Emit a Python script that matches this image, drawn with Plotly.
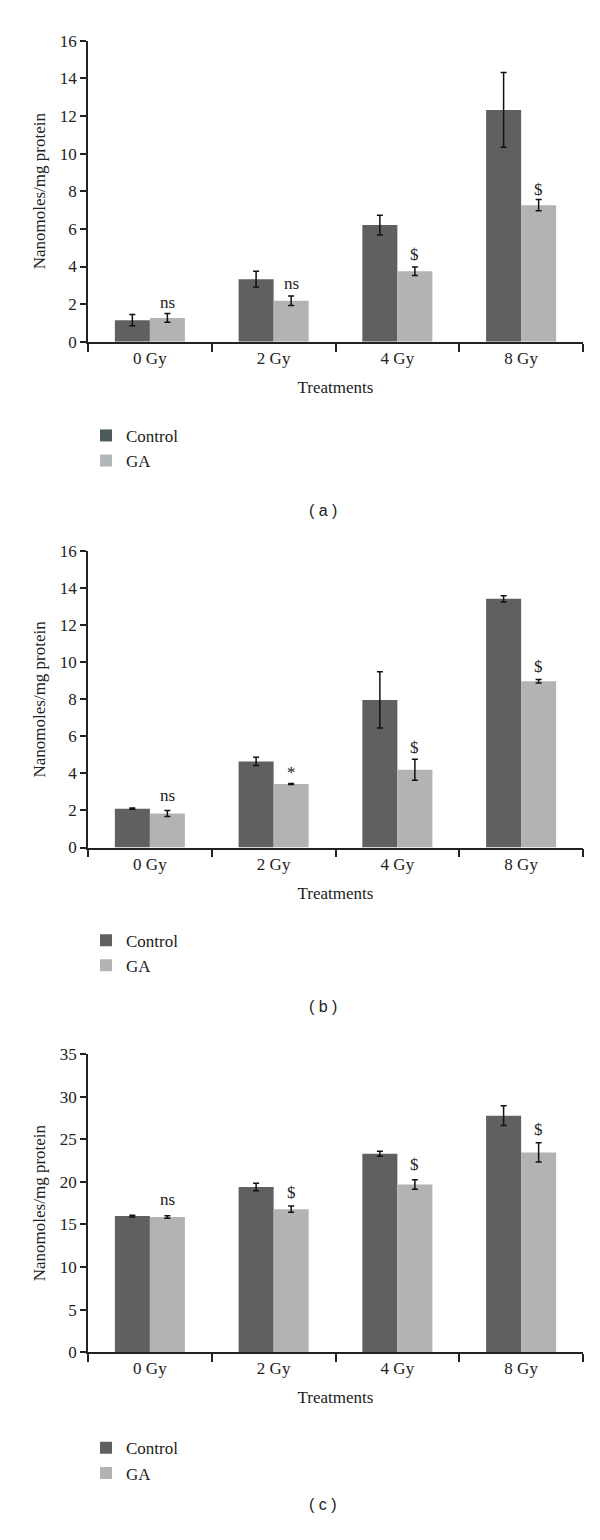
import plotly.graph_objects as go

categories = ["0 Gy", "2 Gy", "4 Gy", "8 Gy"]

# Panel (a)
a_control = [1.15, 3.33, 6.2, 12.32]
a_control_err = [0.3, 0.42, 0.52, 1.99]
a_ga = [1.27, 2.18, 3.75, 7.26]
a_ga_err = [0.23, 0.25, 0.23, 0.3]
a_marks = ["ns", "ns", "$", "$"]
a_mark_y = [2.08, 3.1, 4.66, 8.1]

# Panel (b)
b_control = [2.1, 4.65, 7.97, 13.43]
b_control_err = [0.03, 0.22, 1.52, 0.17]
b_ga = [1.84, 3.43, 4.2, 8.98]
b_ga_err = [0.16, 0.03, 0.57, 0.09]
b_marks = ["ns", "*", "$", "$"]
b_mark_y = [2.8, 4.06, 5.4, 9.8]

# Panel (c)
c_control = [15.98, 19.4, 23.3, 27.76]
c_control_err = [0.1, 0.44, 0.29, 1.17]
c_ga = [15.86, 16.79, 19.68, 23.45]
c_ga_err = [0.15, 0.37, 0.56, 1.12]
c_marks = ["ns", "$", "$", "$"]
c_mark_y = [17.9, 18.7, 22.0, 26.1]

y_ranges = [[0, 16], [0, 16], [0, 35]]
y_dticks = [2, 2, 5]
panel_labels = ["( a )", "( b )", "( c )"]

W, H = 600, 1540
CTRL = "#606060"
GA = "#b3b3b3"
SERIF = "Liberation Serif"
TXT = "#222222"

panels = [
    (a_control, a_control_err, a_ga, a_ga_err, a_marks, a_mark_y),
    (b_control, b_control_err, b_ga, b_ga_err, b_marks, b_mark_y),
    (c_control, c_control_err, c_ga, c_ga_err, c_marks, c_mark_y),
]
legend_cols = [("#4d5a5c", "#b0b8bc"), (CTRL, GA), (CTRL, GA)]

# pixel geometry (top, bottom of plot area) per panel
pix = [(32, 337), (549, 849), (1058, 1360)]
legend_top = [414, 925, 1439]
label_y = [497, 1010, 1525]

fig = go.Figure()
annotations = []
layout = {}
for i, (ctrl, ctrl_e, ga, ga_e, marks, mark_y) in enumerate(panels):
    n = "" if i == 0 else str(i + 1)
    xa, ya = "x" + n, "y" + n
    leg = "legend" if i == 0 else "legend" + str(i + 1)
    fig.add_trace(go.Bar(
        x=categories, y=ctrl, name="Control", marker_color=CTRL, marker_line_width=0,
        error_y=dict(type="data", array=ctrl_e, color="#111111", thickness=1.5, width=3),
        xaxis=xa, yaxis=ya, showlegend=False, offsetgroup="c"))
    fig.add_trace(go.Bar(
        x=categories, y=ga, name="GA", marker_color=GA, marker_line_width=0,
        error_y=dict(type="data", array=ga_e, color="#111111", thickness=1.5, width=3),
        xaxis=xa, yaxis=ya, showlegend=False, offsetgroup="g"))
    for name, col in zip(["Control", "GA"], legend_cols[i]):
        fig.add_trace(go.Scatter(
            x=[None], y=[None], mode="markers", name=name,
            marker=dict(symbol="square", size=13, color=col),
            xaxis=xa, yaxis=ya, legend=leg, showlegend=True))
    top, bot = pix[i]
    layout["xaxis" + n] = dict(
        domain=[88 / W, 583 / W], anchor=ya, type="category",
        showline=True, linecolor=TXT, linewidth=1.5,
        ticks="outside", ticklen=8, tickcolor=TXT, tickwidth=1.5,
        tickson="boundaries", showgrid=False, zeroline=False,
        tickfont=dict(family=SERIF, size=17, color=TXT),
        title=dict(text="Treatments", font=dict(family=SERIF, size=17, color=TXT), standoff=14),
    )
    layout["yaxis" + n] = dict(
        domain=[1 - bot / H, 1 - top / H], anchor=xa, range=y_ranges[i], dtick=y_dticks[i],
        showline=True, linecolor=TXT, linewidth=1.5,
        ticks="outside", ticklen=6, tickcolor=TXT, tickwidth=1.5,
        showgrid=False, zeroline=False,
        tickfont=dict(family=SERIF, size=17, color=TXT),
        title=dict(text="Nanomoles/mg protein", font=dict(family=SERIF, size=17, color=TXT), standoff=10),
    )
    layout[leg] = dict(
        x=86 / W, xanchor="left", y=1 - legend_top[i] / H, yanchor="top",
        bgcolor="rgba(0,0,0,0)", font=dict(family=SERIF, size=17, color=TXT),
        tracegroupgap=0, itemsizing="constant",
    )
    for cat, m, my in zip(categories, marks, mark_y):
        annotations.append(dict(
            x=cat, y=my, xref=xa, yref=ya, text=m, showarrow=False, xshift=17.5,
            font=dict(family=SERIF, size=17, color=TXT)))
    annotations.append(dict(
        x=0.538, y=1 - label_y[i] / H, xref="paper", yref="paper", text=panel_labels[i],
        showarrow=False, font=dict(family="Liberation Sans", size=16, color=TXT)))

fig.update_layout(
    width=W, height=H, margin=dict(l=0, r=0, t=0, b=0),
    paper_bgcolor="white", plot_bgcolor="white",
    font=dict(family=SERIF, color=TXT),
    barmode="group", bargap=0.434, bargroupgap=0,
    annotations=annotations, **layout,
)
fig.write_html("out.html", config={"displayModeBar": False},
               post_script="document.body.style.margin='0px';")
